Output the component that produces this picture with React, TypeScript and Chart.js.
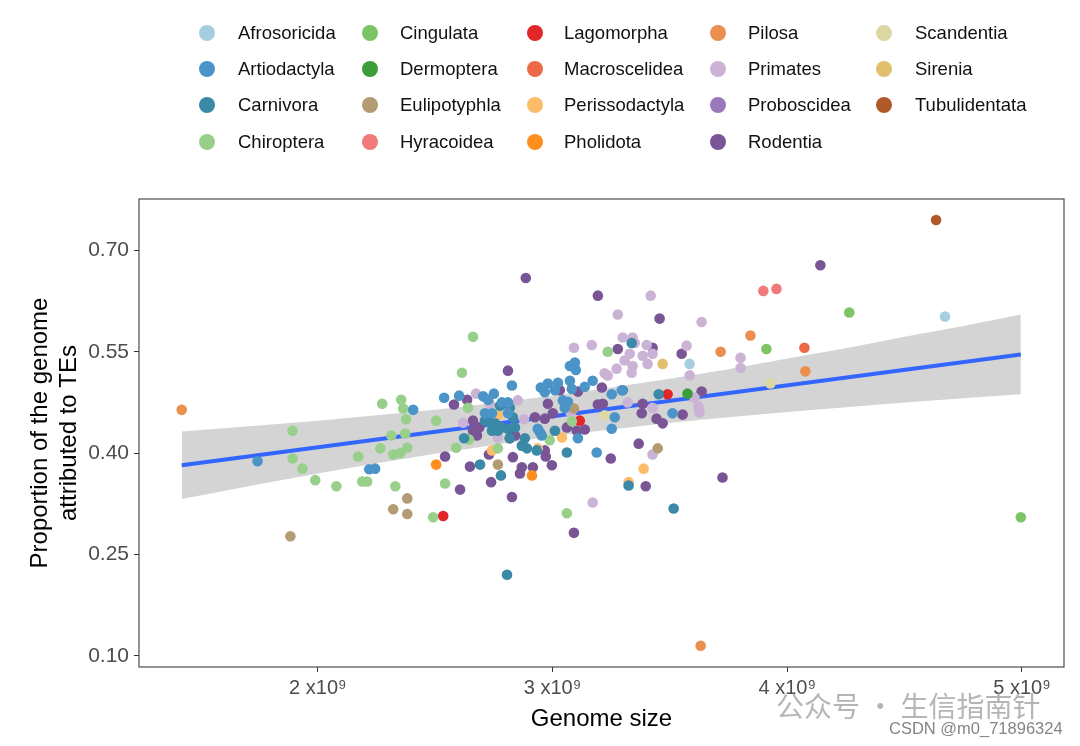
import React, { useEffect, useRef } from "react";
import { Chart, registerables } from "chart.js";

Chart.register(...registerables);

// genome size in units of 1e9, proportion of genome attributed to TEs
const afrosoricida: [number, number][] = [[4.672, 0.602], [3.584, 0.532]];
const artiodactyla: [number, number][] = [
  [1.743, 0.388], [2.219, 0.376], [2.244, 0.377], [2.406, 0.464], [2.538, 0.482],
  [2.602, 0.485], [2.704, 0.484], [2.75, 0.488], [2.725, 0.479], [2.827, 0.5],
  [2.95, 0.497], [2.98, 0.503], [2.967, 0.49], [3.023, 0.504], [3.01, 0.493],
  [2.784, 0.475], [2.81, 0.475], [2.712, 0.459], [2.742, 0.459], [2.81, 0.459],
  [2.946, 0.431], [2.954, 0.426], [3.074, 0.529], [3.095, 0.534], [3.099, 0.523],
  [3.171, 0.507], [3.137, 0.498], [3.074, 0.507], [3.082, 0.495], [3.252, 0.487],
  [3.295, 0.493], [3.044, 0.478], [3.065, 0.476], [3.052, 0.467], [3.265, 0.453],
  [3.252, 0.436], [3.108, 0.422], [3.188, 0.401], [3.511, 0.459], [2.937, 0.436],
];
const carnivora: [number, number][] = [
  [2.623, 0.422], [2.691, 0.383], [2.78, 0.367], [2.776, 0.47], [2.818, 0.467],
  [2.712, 0.448], [2.733, 0.445], [2.755, 0.444], [2.784, 0.438], [2.81, 0.436],
  [2.84, 0.438], [2.767, 0.433], [2.742, 0.433], [2.831, 0.453], [3.01, 0.433],
  [2.818, 0.422], [2.882, 0.422], [2.933, 0.404], [2.891, 0.407], [2.869, 0.411],
  [3.061, 0.401], [3.337, 0.563], [3.299, 0.493], [3.452, 0.487], [3.324, 0.352],
  [3.516, 0.318], [2.806, 0.22],
];
const chiroptera: [number, number][] = [
  [1.892, 0.433], [1.892, 0.392], [1.934, 0.377], [1.989, 0.36], [2.079, 0.351],
  [2.172, 0.395], [2.189, 0.358], [2.21, 0.358], [2.266, 0.407], [2.274, 0.473],
  [2.661, 0.572], [2.614, 0.519], [2.355, 0.479], [2.364, 0.466], [2.376, 0.45],
  [2.313, 0.426], [2.372, 0.429], [2.321, 0.398], [2.351, 0.4], [2.381, 0.408],
  [2.504, 0.448], [2.64, 0.467], [2.644, 0.42], [2.589, 0.408], [2.542, 0.355],
  [2.33, 0.351], [2.491, 0.305], [2.767, 0.407], [2.988, 0.419], [3.082, 0.447],
  [3.235, 0.55], [3.061, 0.311],
];
const cingulata: [number, number][] = [[4.264, 0.608], [3.911, 0.554], [4.995, 0.305]];
const dermoptera: [number, number][] = [[3.575, 0.488]];
const eulipotyphla: [number, number][] = [
  [1.883, 0.277], [2.767, 0.383], [2.381, 0.333], [2.321, 0.317], [2.381, 0.31],
  [3.091, 0.466], [3.448, 0.407],
];
const hyracoidea: [number, number][] = [[3.898, 0.64], [3.954, 0.643]];
const lagomorpha: [number, number][] = [[2.534, 0.307], [3.116, 0.448], [3.49, 0.487]];
const macroscelidea: [number, number][] = [[4.073, 0.556]];
const perissodactyla: [number, number][] = [
  [2.767, 0.456], [3.04, 0.423], [2.937, 0.407], [2.742, 0.404], [3.388, 0.377], [3.324, 0.357],
];
const pholidota: [number, number][] = [[2.504, 0.383], [2.912, 0.367]];
const pilosa: [number, number][] = [
  [1.42, 0.464], [3.716, 0.55], [3.843, 0.574], [4.077, 0.521], [3.631, 0.115],
];
const primates: [number, number][] = [
  [2.674, 0.488], [2.619, 0.445], [2.733, 0.473], [2.852, 0.478], [2.878, 0.45],
  [2.767, 0.423], [3.091, 0.556], [3.167, 0.56], [3.273, 0.525], [3.222, 0.518],
  [3.235, 0.515], [3.078, 0.459], [3.171, 0.327], [3.635, 0.594], [3.299, 0.571],
  [3.341, 0.571], [3.35, 0.563], [3.401, 0.56], [3.571, 0.559], [3.329, 0.547],
  [3.384, 0.544], [3.426, 0.547], [3.307, 0.537], [3.341, 0.529], [3.405, 0.532],
  [3.337, 0.519], [3.584, 0.515], [3.801, 0.541], [3.801, 0.526], [3.605, 0.482],
  [3.32, 0.475], [3.426, 0.467], [3.622, 0.469], [3.626, 0.46], [3.426, 0.398],
  [3.418, 0.633], [3.278, 0.605],
];
const proboscidea: [number, number][] = [];
const rodentia: [number, number][] = [
  [2.58, 0.472], [2.636, 0.479], [2.661, 0.448], [2.687, 0.438], [2.678, 0.426],
  [2.661, 0.433], [2.542, 0.395], [2.648, 0.38], [2.729, 0.398], [2.738, 0.357],
  [2.606, 0.346], [2.81, 0.522], [2.827, 0.431], [2.84, 0.426], [2.98, 0.473],
  [2.925, 0.453], [2.967, 0.451], [3.001, 0.459], [2.967, 0.404], [2.831, 0.394],
  [2.971, 0.395], [2.916, 0.379], [2.997, 0.382], [3.031, 0.493], [3.108, 0.491],
  [3.21, 0.497], [3.193, 0.472], [3.214, 0.473], [3.061, 0.438], [3.103, 0.433],
  [3.137, 0.435], [2.818, 0.422], [3.248, 0.392], [2.869, 0.379], [2.861, 0.37],
  [2.827, 0.335], [3.278, 0.554], [3.456, 0.599], [3.426, 0.556], [3.55, 0.547],
  [3.635, 0.491], [3.384, 0.473], [3.38, 0.459], [3.554, 0.457], [3.443, 0.451],
  [3.469, 0.444], [3.367, 0.414], [3.397, 0.351], [3.724, 0.364], [2.886, 0.659],
  [3.193, 0.633], [4.141, 0.678], [3.091, 0.282],
];
const scandentia: [number, number][] = [[3.928, 0.503], [3.222, 0.456]];
const sirenia: [number, number][] = [[3.469, 0.532]];
const tubulidentata: [number, number][] = [[4.634, 0.745]];

const orderNames = [
  "Afrosoricida", "Artiodactyla", "Carnivora", "Chiroptera",
  "Cingulata", "Dermoptera", "Eulipotyphla", "Hyracoidea",
  "Lagomorpha", "Macroscelidea", "Perissodactyla", "Pholidota",
  "Pilosa", "Primates", "Proboscidea", "Rodentia",
  "Scandentia", "Sirenia", "Tubulidentata",
];
const orderPoints = [
  afrosoricida, artiodactyla, carnivora, chiroptera,
  cingulata, dermoptera, eulipotyphla, hyracoidea,
  lagomorpha, macroscelidea, perissodactyla, pholidota,
  pilosa, primates, proboscidea, rodentia,
  scandentia, sirenia, tubulidentata,
];
const orderColors = [
  "#A6CEE3", "#4A94C7", "#3A89A6", "#98D08B",
  "#7DC467", "#3A9F38", "#B39B74", "#F07B7B",
  "#E3262A", "#EC6A48", "#FDBC6A", "#FE8F1E",
  "#EA8F4E", "#CBB3D5", "#9A78BA", "#7A5596",
  "#DDD7A2", "#E0C06A", "#B05A2A",
];

// linear fit and its confidence band
const fitX = [1.42, 4.995];
const fitY = [0.382, 0.546];
const bandX = [1.42, 1.75, 2.0, 2.25, 2.5, 2.75, 3.0, 3.25, 3.5, 3.75, 4.0, 4.25, 4.5, 4.75, 4.995];
const bandUpper = [0.432, 0.441, 0.448, 0.456, 0.464, 0.474, 0.485, 0.497, 0.51, 0.524, 0.54, 0.555, 0.572, 0.588, 0.605];
const bandLower = [0.332, 0.354, 0.37, 0.385, 0.399, 0.412, 0.425, 0.435, 0.445, 0.453, 0.461, 0.468, 0.475, 0.481, 0.487];

const xTicks = [2, 3, 4, 5];
const yTicks = [0.1, 0.25, 0.4, 0.55, 0.7];

const FONT = "'Liberation Sans', Arial, Helvetica, sans-serif";

// legend layout (column-major, 4 rows)
const legendDotX = [207, 370, 535, 718, 884];
const legendTextX = [238, 400, 564, 748, 915];
const legendRowY = [33, 69, 105, 142];

const legendPlugin = {
  id: "orderLegend",
  afterDraw(chart: Chart) {
    const ctx = chart.ctx;
    ctx.save();
    ctx.font = `18.5px ${FONT}`;
    ctx.textBaseline = "middle";
    orderNames.forEach((name, i) => {
      const col = Math.floor(i / 4);
      const row = i % 4;
      ctx.fillStyle = orderColors[i];
      ctx.beginPath();
      ctx.arc(legendDotX[col], legendRowY[row], 8, 0, Math.PI * 2);
      ctx.fill();
      ctx.fillStyle = "#111";
      ctx.fillText(name, legendTextX[col], legendRowY[row] + 1);
    });
    // watermark
    ctx.fillStyle = "rgba(150,150,150,0.7)";
    ctx.font = `28px 'Noto Sans CJK SC', sans-serif`;
    ctx.fillText("公众号 · 生信指南针", 776, 706);
    ctx.fillStyle = "rgba(110,110,110,0.85)";
    ctx.font = `16.5px ${FONT}`;
    ctx.fillText("CSDN @m0_71896324", 889, 729);
    ctx.restore();
  },
};

const borderPlugin = {
  id: "panelBorder",
  afterDatasetsDraw(chart: Chart) {
    const { ctx, chartArea } = chart;
    ctx.save();
    ctx.strokeStyle = "#4D4D4D";
    ctx.lineWidth = 1.2;
    ctx.strokeRect(chartArea.left, chartArea.top, chartArea.right - chartArea.left, chartArea.bottom - chartArea.top);
    ctx.restore();
  },
};

const App: React.FC = () => {
  const canvasRef = useRef<HTMLCanvasElement>(null);
  const chartInstance = useRef<Chart | null>(null);

  useEffect(() => {
    document.body.style.margin = "0";
    const ctx = canvasRef.current?.getContext("2d");
    if (!ctx) return;
    if (chartInstance.current) chartInstance.current.destroy();

    const pointSets = orderNames.map((name, i) => ({
      type: "scatter" as const,
      label: name,
      data: orderPoints[i].map(([x, y]) => ({ x, y })),
      backgroundColor: orderColors[i],
      borderWidth: 0,
      pointRadius: 5.3,
      order: 1,
    }));

    chartInstance.current = new Chart(ctx, {
      type: "scatter",
      data: {
        datasets: [
          {
            type: "line",
            label: "lower",
            data: bandX.map((x, i) => ({ x, y: bandLower[i] })),
            borderWidth: 0,
            pointRadius: 0,
            fill: false,
            order: 30,
          },
          {
            type: "line",
            label: "upper",
            data: bandX.map((x, i) => ({ x, y: bandUpper[i] })),
            borderWidth: 0,
            pointRadius: 0,
            fill: "-1",
            backgroundColor: "rgba(153,153,153,0.42)",
            order: 29,
          },
          {
            type: "line",
            label: "fit",
            data: fitX.map((x, i) => ({ x, y: fitY[i] })),
            borderColor: "#3366FF",
            borderWidth: 4,
            pointRadius: 0,
            fill: false,
            order: 20,
          },
          ...pointSets,
        ] as any,
      },
      options: {
        animation: false,
        responsive: true,
        maintainAspectRatio: false,
        events: [],
        layout: { padding: { top: 199, right: 16, left: 0, bottom: 0 } },
        plugins: {
          legend: { display: false },
          tooltip: { enabled: false },
        },
        scales: {
          x: {
            type: "linear",
            min: 1.238,
            max: 5.179,
            afterBuildTicks: (scale: any) => {
              scale.ticks = xTicks.map((value) => ({ value }));
            },
            afterFit: (scale: any) => {
              scale.height = 79;
            },
            grid: { display: true, drawOnChartArea: false, drawTicks: true, tickLength: 5, color: "#333" },
            border: { display: false },
            ticks: {
              autoSkip: false,
              maxRotation: 0,
              padding: 4,
              color: "#4D4D4D",
              font: { family: FONT, size: 20 },
              callback: (v: any) => `${v} x10⁹`,
            },
            title: {
              display: true,
              text: "Genome size",
              color: "#000",
              font: { family: FONT, size: 24 },
              padding: { top: 0, bottom: 12 },
            },
          },
          y: {
            type: "linear",
            min: 0.0835,
            max: 0.776,
            afterBuildTicks: (scale: any) => {
              scale.ticks = yTicks.map((value) => ({ value }));
            },
            afterFit: (scale: any) => {
              scale.width = 139;
            },
            grid: { display: true, drawOnChartArea: false, drawTicks: true, tickLength: 5, color: "#333" },
            border: { display: false },
            ticks: {
              autoSkip: false,
              padding: 5,
              color: "#4D4D4D",
              font: { family: FONT, size: 21 },
              callback: (v: any) => Number(v).toFixed(2),
            },
            title: {
              display: true,
              text: ["Proportion of the genome", "attributed to TEs"],
              color: "#000",
              font: { family: FONT, size: 24 },
              padding: { top: 26, bottom: 0 },
            },
          },
        },
      },
      plugins: [borderPlugin, legendPlugin],
    });

    return () => {
      if (chartInstance.current) {
        chartInstance.current.destroy();
        chartInstance.current = null;
      }
    };
  }, []);

  return (
    <div style={{ width: 1080, height: 746, position: "relative" }}>
      <canvas ref={canvasRef} />
    </div>
  );
};

export default App;
